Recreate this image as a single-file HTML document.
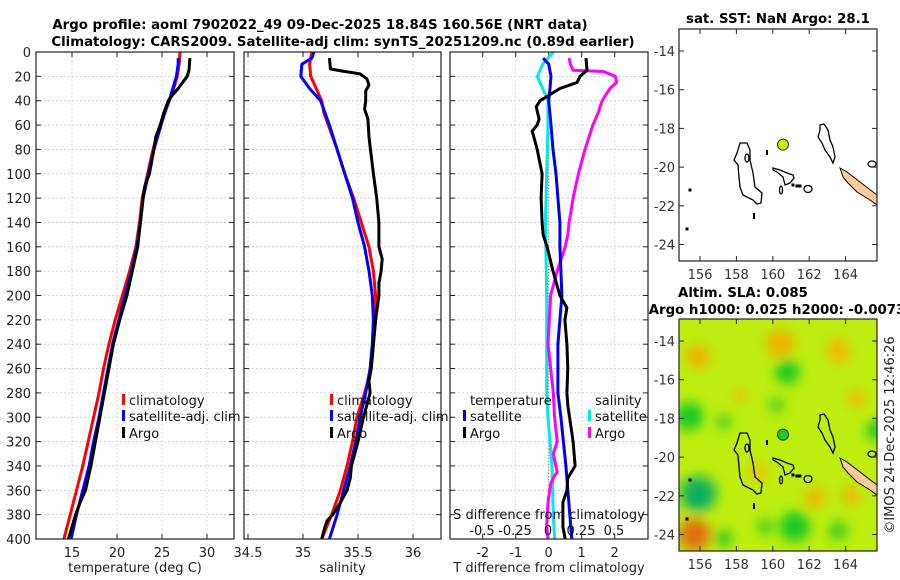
<!DOCTYPE html>
<html><head><meta charset="utf-8">
<style>
html,body{margin:0;padding:0;background:#fff;}
svg{display:block;font-family:"DejaVu Sans","Liberation Sans",sans-serif;}
</style></head>
<body>
<svg id="fig" width="900" height="580" viewBox="0 0 900 580">
<defs>
<filter id="blur" x="-20%" y="-20%" width="140%" height="140%"><feGaussianBlur stdDeviation="6"/></filter>
<clipPath id="clipP1"><rect x="36" y="52" width="198" height="487"/></clipPath>
<clipPath id="clipP2"><rect x="244" y="52" width="197" height="487"/></clipPath>
<clipPath id="clipP3"><rect x="450" y="52" width="198" height="487"/></clipPath>
<clipPath id="clipM1"><rect x="679" y="29" width="198" height="232"/></clipPath>
<clipPath id="clipM2"><rect x="679" y="319" width="198" height="232"/></clipPath>
</defs>
<g font-weight="bold" font-size="13.3" fill="#000" text-anchor="middle">
<text x="320" y="29">Argo profile: aoml 7902022_49 09-Dec-2025 18.84S 160.56E (NRT data)</text>
<text x="343" y="46">Climatology: CARS2009. Satellite-adj clim: synTS_20251209.nc (0.89d earlier)</text>
<text x="778" y="23">sat. SST: NaN Argo: 28.1</text>
<text x="743" y="297">Altim. SLA: 0.085</text>
<text x="777" y="314">Argo h1000: 0.025 h2000: -0.0073</text>
</g>
<g id="panels"></g>
<g id="maps"></g>
<text transform="translate(894,435) rotate(-90)" font-size="13" fill="#222" text-anchor="middle">©IMOS 24-Dec-2025 12:46:26</text>
</svg>
<script>
// ---------- data ----------
const depthTicks = [0,20,40,60,80,100,120,140,160,180,200,220,240,260,280,300,320,340,360,380,400];
const tempTicks = [15,20,25,30];
const salTicks = [34.5,35,35.5,36];
const salTickLabels = ["34.5","35","35.5","36"];
const dTTicks = [-2,-1,0,1,2];
const dSTicks = [-0.5,-0.25,0,0.25,0.5];
const dSTickLabels = ["-0.5","-0.25","0","0.25","0.5"];

const tClimDepth = [0,10,20,30,40,50,60,80,100,120,140,160,180,200,220,240,260,280,300,320,340,360,380,400];
const tClimVal   = [27.0,26.9,26.7,26.3,25.8,25.3,24.8,24.0,23.4,22.8,22.5,22.1,21.4,20.6,19.8,19.1,18.5,18.0,17.4,16.8,16.2,15.5,14.8,14.1];
const tSatDepth = [5,10,20,30,40,50,60,80,100,120,140,160,180,200,220,240,260,280,300,320,340,360,380,400];
const tSatVal   = [26.8,26.8,26.6,26.2,25.8,25.3,24.9,24.1,23.5,22.9,22.6,22.2,21.6,20.9,20.2,19.5,19.0,18.5,18.0,17.4,16.9,16.2,15.5,14.9];
const tArgoDepth = [5,15,20,25,30,35,40,50,60,70,80,100,110,120,140,160,180,200,220,240,260,280,300,320,340,360,370,380,390,400];
const tArgoVal   = [28.1,28.0,27.8,27.3,26.8,26.2,25.7,25.2,24.8,24.3,24.1,23.6,23.1,22.9,22.6,22.3,21.7,21.1,20.3,19.6,19.1,18.6,18.1,17.6,17.1,16.5,15.9,15.4,15.0,14.6];

const sClimDepth = [0,10,20,30,40,50,60,80,100,120,140,160,180,200,220,240,260,280,300,320,340,360,380,400];
const sClimVal   = [35.08,35.06,35.07,35.12,35.17,35.19,35.23,35.31,35.38,35.46,35.53,35.60,35.64,35.66,35.66,35.64,35.62,35.56,35.49,35.45,35.40,35.34,35.26,35.17];
const sSatDepth = [0,5,10,20,30,40,50,60,80,100,120,140,160,180,200,220,240,260,280,300,320,340,360,380,400];
const sSatVal   = [35.10,35.08,34.99,34.98,35.06,35.16,35.20,35.24,35.31,35.38,35.45,35.50,35.56,35.60,35.63,35.64,35.63,35.61,35.57,35.52,35.48,35.43,35.37,35.31,35.24];
const sArgoDepth = [5,14,16,18,22,27,32,40,47,55,70,100,120,140,160,170,180,190,200,220,240,260,270,280,300,320,330,340,350,360,370,380,385,390,400];
const sArgoVal   = [35.24,35.25,35.38,35.52,35.58,35.60,35.57,35.57,35.56,35.59,35.60,35.64,35.67,35.69,35.69,35.72,35.71,35.69,35.69,35.66,35.64,35.62,35.60,35.61,35.55,35.50,35.47,35.44,35.43,35.40,35.34,35.27,35.22,35.20,35.17];

const dTSatDepth = [5,10,20,30,40,60,80,100,120,140,160,200,240,280,300,340,380,400];
const dTSatVal   = [-0.17,0,0.07,0.04,0,0.07,0.13,0.22,0.28,0.34,0.34,0.40,0.28,0.28,0.37,0.52,0.64,0.70];
const dTArgoDepth = [5,15,20,25,30,35,40,45,55,60,65,80,100,120,140,150,160,180,200,210,220,240,260,280,290,320,340,350,360,370,390,400];
const dTArgoVal   = [1.13,1.16,0.95,0.86,0.34,0.04,-0.26,-0.38,-0.29,-0.35,-0.50,-0.35,-0.20,-0.23,-0.20,-0.17,-0.05,0.13,0.34,0.55,0.49,0.55,0.58,0.55,0.58,0.74,0.80,0.58,0.55,0.43,0.43,0.50];
const dSSatDepth = [0,10,20,30,40,60,100,140,200,280,300,340,380,400];
const dSSatVal   = [0.04,-0.04,-0.08,-0.04,0,0,-0.01,-0.02,-0.01,-0.01,0,0.03,0.04,0.05];
const dSArgoDepth = [5,10,15,16,20,25,30,40,50,60,80,100,120,140,150,160,170,180,200,240,280,300,320,330,345,350,355,370,390,400];
const dSArgoVal   = [0.16,0.17,0.19,0.42,0.51,0.52,0.47,0.41,0.38,0.34,0.28,0.23,0.19,0.16,0.15,0.13,0.10,0.07,0.02,0,0.04,0.05,0.07,0.04,0.07,0.04,0.02,0,-0.01,0];

const mapLonTicks = [156,158,160,162,164];
const mapLatTicks = [-14,-16,-18,-20,-22,-24];
const argoLon = 160.56, argoLat = -18.84;

// ---------- helpers ----------
const NS = "http://www.w3.org/2000/svg";
function mk(tag, attrs, parent){const e=document.createElementNS(NS,tag);for(const k in attrs)e.setAttribute(k,attrs[k]);if(parent)parent.appendChild(e);return e;}
const yDepth = d => 52 + d*(487/400);
const xTemp = t => 72 + (t-15)*9;
const xSal = s => 303 + (s-35)*110;
const xDT = v => 548.7 + v*33;
const xDS = v => 548 + v*132;

const panels = document.getElementById('panels');

function panelFrame(x0,x1,name,xticks,xfn,labels,xlabel,showY){
  const g = mk('g',{},panels);
  
  
  const grid = mk('g',{stroke:'#b8c4ee','stroke-width':'0.8','stroke-dasharray':'2,2'},g);
  
  
  depthTicks.forEach(d=>{ if(d>0&&d<400) mk('line',{x1:x0,x2:x1,y1:yDepth(d),y2:yDepth(d)},grid); });
  xticks.forEach(v=>{ const x=xfn(v); if(x>x0+1&&x<x1-1) mk('line',{x1:x,x2:x,y1:52,y2:539,stroke:'#e0c8d8'},grid); });
  const tk = mk('g',{stroke:'#222','stroke-width':'1'},g);
  depthTicks.forEach(d=>{ mk('line',{x1:x0,x2:x0+5,y1:yDepth(d),y2:yDepth(d)},tk); mk('line',{x1:x1-5,x2:x1,y1:yDepth(d),y2:yDepth(d)},tk); });
  xticks.forEach(v=>{ const x=xfn(v); mk('line',{x1:x,x2:x,y1:539,y2:534},tk); mk('line',{x1:x,x2:x,y1:52,y2:57},tk); });
  const lab = mk('g',{'font-size':'13',fill:'#222','text-anchor':'middle'},g);
  xticks.forEach((v,i)=>{ const t=mk('text',{x:xfn(v),y:557},lab); t.textContent=labels[i];
    
     });
  const xl = mk('text',{x:(x0+x1)/2,y:572},lab); xl.textContent=xlabel;
  
  
  if(showY){
    depthTicks.forEach(d=>{ const t=mk('text',{x:31,y:yDepth(d)+5,'text-anchor':'end'},lab); t.textContent=String(d);
      
       });
  }
  return g;
}
function series(g,depths,vals,xfn,color,name,clip){
  const pts = depths.map((d,i)=>xfn(vals[i]).toFixed(1)+','+yDepth(d).toFixed(1)).join(' ');
  const p = mk('polyline',{points:pts,fill:'none',stroke:color,'stroke-width':'3','stroke-linejoin':'round','clip-path':'url(#'+clip+')'},g);
  
  
}
function border(g,x0,x1){ mk('rect',{x:x0,y:52,width:x1-x0,height:487,fill:'none',stroke:'#222','stroke-width':'1.2'},g); }
function legendItem(g,x,y,color,text,name){
  mk('rect',{x:x,y:y-11,width:3,height:11,fill:color},g);
  const t=mk('text',{x:x+7,y:y,'font-size':'13',fill:'#111'},g); t.textContent=text;
  
  
}

const g1 = panelFrame(36,234,'temperature-panel',tempTicks,xTemp,tempTicks.map(String),'temperature (deg C)',true);
series(g1,tClimDepth,tClimVal,xTemp,'#ff0000','temp-climatology-line','clipP1');
series(g1,tSatDepth,tSatVal,xTemp,'#0000ff','temp-satellite-line','clipP1');
series(g1,tArgoDepth,tArgoVal,xTemp,'#000000','temp-argo-line','clipP1');
border(g1,36,234);
legendItem(g1,122,405,'#ff0000','climatology','legend-climatology');
legendItem(g1,122,421,'#0000ff','satellite-adj. clim','legend-satellite-adj');
legendItem(g1,122,438,'#000000','Argo','legend-argo');

const g2 = panelFrame(244,441,'salinity-panel',salTicks,xSal,salTickLabels,'salinity',false);
series(g2,sClimDepth,sClimVal,xSal,'#ff0000','sal-climatology-line','clipP2');
series(g2,sSatDepth,sSatVal,xSal,'#0000ff','sal-satellite-line','clipP2');
series(g2,sArgoDepth,sArgoVal,xSal,'#000000','sal-argo-line','clipP2');
border(g2,244,441);
legendItem(g2,330,405,'#ff0000','climatology','legend-sal-climatology');
legendItem(g2,330,421,'#0000ff','satellite-adj. clim','legend-sal-satellite-adj');
legendItem(g2,330,438,'#000000','Argo','legend-sal-argo');

const g3 = panelFrame(450,648,'difference-panel',dTTicks,xDT,dTTicks.map(String),'T difference from climatology',false);
mk('line',{x1:xDT(0),x2:xDT(0),y1:yDepth(40),y2:yDepth(370),stroke:'#666','stroke-width':'1','stroke-dasharray':'1,2'},g3);
series(g3,dSSatDepth,dSSatVal,xDS,'#00e8e8','sal-diff-satellite-line','clipP3');
series(g3,dSArgoDepth,dSArgoVal,xDS,'#ff00ff','sal-diff-argo-line','clipP3');
series(g3,dTSatDepth,dTSatVal,xDT,'#0000ee','temp-diff-satellite-line','clipP3');
series(g3,dTArgoDepth,dTArgoVal,xDT,'#000000','temp-diff-argo-line','clipP3');
border(g3,450,648);
{
  const t1=mk('text',{x:470,y:405,'font-size':'13',fill:'#111'},g3); t1.textContent='temperature';
  
  
  const t2=mk('text',{x:595,y:405,'font-size':'13',fill:'#111'},g3); t2.textContent='salinity';
  
  
  legendItem(g3,463,421,'#0000ee','satellite','legend-t-satellite');
  legendItem(g3,463,438,'#000000','Argo','legend-t-argo');
  legendItem(g3,588,421,'#00e8e8','satellite','legend-s-satellite');
  legendItem(g3,588,438,'#ff00ff','Argo','legend-s-argo');
  const st=mk('text',{x:549,y:519,'font-size':'13',fill:'#111','text-anchor':'middle'},g3); st.textContent='S difference from climatology';
  
  
  dSTicks.forEach((v,i)=>{ const t=mk('text',{x:xDS(v),y:535,'font-size':'13',fill:'#111','text-anchor':'middle'},g3); t.textContent=dSTickLabels[i];
    
     });
}

// ---------- maps ----------
const maps = document.getElementById('maps');
const lonX = lon => 700 + (lon-156)*18.2;
const latY = (lat,top) => top + 22 + (-14-lat)*19.35;
const reefs = [
 "740,143 747,143 750,150 750,160 753,173 755,187 762,193 761,203 757,204 753,200 743,195 740,187 739,177 738,165 734,160 737,153",
 "773,168 780,170 787,173 793,175 794,178 790,183 785,185 783,177 777,172 773,170",
 "820,125 824,124 828,130 830,140 833,147 835,157 833,163 830,157 825,150 822,143 818,137 820,130"
];
const land = "840,168 847,172 860,182 873,192 877,195 877,205 870,200 857,192 848,183 843,177";

function drawMap(top,name,sla){
  const g = mk('g',{},maps);
  
  
  const clip = top===29?'clipM1':'clipM2';
  const inner = mk('g',{'clip-path':'url(#'+clip+')'},g);
  if(sla){
    mk('rect',{x:679,y:top,width:198,height:232,fill:'#bdee10'},inner);
    const bl = mk('g',{filter:'url(#blur)'},inner);
    const blobs=[[160.8,-15.6,12,'#18c828'],[155.4,-17.9,14,'#18c828'],[155.9,-21.9,18,'#10b060'],[161.2,-23.6,15,'#18c828'],[165.7,-18.6,10,'#18c828'],[157.3,-18.2,7,'#30c828'],[157.3,-24.2,8,'#20c028'],[163.6,-23.8,9,'#30c828'],[159.6,-23.6,8,'#40cc20'],[160.2,-17.3,8,'#50d020'],
      [155.7,-24.0,16,'#e07010'],[160.4,-14.1,14,'#f0b000'],[155.9,-14.8,12,'#f0b000'],[163.6,-14.5,12,'#f0b800'],[162.3,-22.1,10,'#f0b000'],[164.3,-22.0,9,'#f0b000'],[164.6,-17.0,9,'#f0bc00'],[159.2,-20.8,9,'#f0c000'],[158.2,-16.8,7,'#e8c000']];
    blobs.forEach(b=>mk('circle',{cx:lonX(b[0]),cy:latY(b[1],top),r:b[2],fill:b[3]},bl));
  }
  const off = top-29;
  const sh = mk('g',{transform:'translate(0,'+off+')'},inner);
  mk('polygon',{points:land,fill:'#ffcc99',stroke:'#000','stroke-width':'1'},sh);
  reefs.forEach(r=>mk('polygon',{points:r,fill:'none',stroke:'#000','stroke-width':'1.3'},sh));
  mk('ellipse',{cx:747,cy:158,rx:2,ry:4,fill:'none',stroke:'#000','stroke-width':'1.3'},sh);
  mk('ellipse',{cx:781,cy:190,rx:1.5,ry:4,fill:'none',stroke:'#000','stroke-width':'1.3'},sh);
  mk('ellipse',{cx:808,cy:189,rx:4,ry:3.5,fill:'none',stroke:'#000','stroke-width':'1.3'},sh);
  mk('ellipse',{cx:872,cy:164,rx:4,ry:3,fill:'none',stroke:'#000','stroke-width':'1.3'},sh);
  [[793,185],[797,186],[800,186],[690,190],[687,229]].forEach(p=>mk('rect',{x:p[0]-1.5,y:p[1]-1.5,width:3,height:3,fill:'#000'},sh));
  mk('line',{x1:767,x2:767,y1:150,y2:155,stroke:'#000','stroke-width':'2'},sh);
  mk('line',{x1:754,x2:754,y1:213,y2:219,stroke:'#000','stroke-width':'2'},sh);
  const dot = mk('circle',{cx:lonX(argoLon),cy:latY(argoLat,top),r:5.5,fill:sla?'#22cc22':'#ccee00',stroke:'#333','stroke-width':'1'},g);
  
  
  mk('rect',{x:679,y:top,width:198,height:232,fill:'none',stroke:'#222','stroke-width':'1.2'},g);
  const tk = mk('g',{stroke:'#222','stroke-width':'1'},g);
  const lab = mk('g',{'font-size':'13',fill:'#333'},g);
  mapLonTicks.forEach(l=>{ const x=lonX(l); mk('line',{x1:x,x2:x,y1:top+232,y2:top+227},tk); mk('line',{x1:x,x2:x,y1:top,y2:top+5},tk);
    const t=mk('text',{x:x,y:top+250,'text-anchor':'middle'},lab); t.textContent=String(l);
    
     });
  mapLatTicks.forEach(l=>{ const y=latY(l,top); mk('line',{x1:679,x2:684,y1:y,y2:y},tk); mk('line',{x1:872,x2:877,y1:y,y2:y},tk);
    const t=mk('text',{x:675,y:y+5,'text-anchor':'end'},lab); t.textContent=String(l);
    
     });
}
drawMap(29,'sst-map',false);
drawMap(319,'sla-map',true);
</script>
</body></html>
